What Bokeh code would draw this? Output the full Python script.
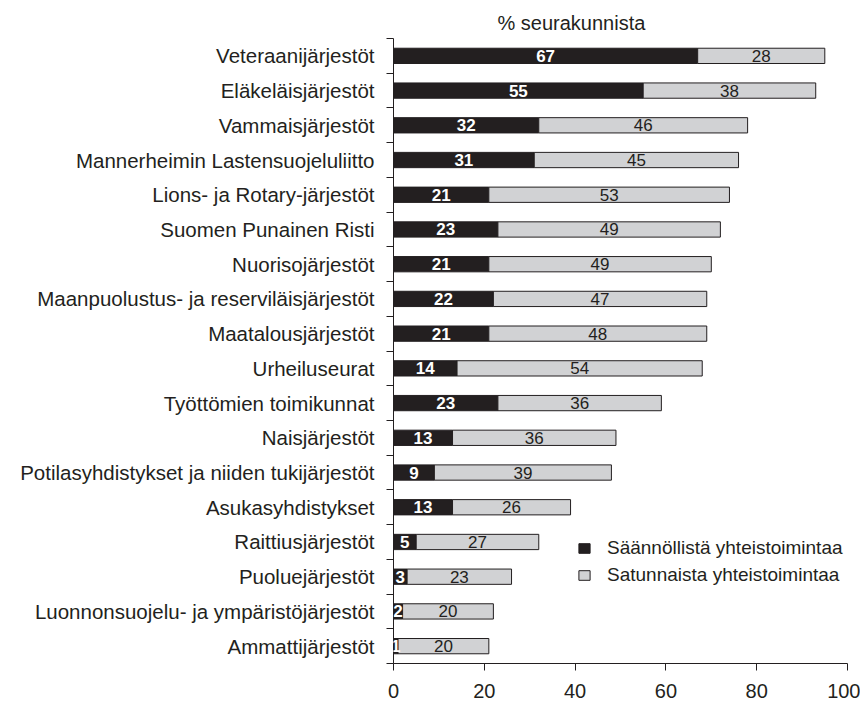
from bokeh.plotting import figure
from bokeh.models import ColumnDataSource, FixedTicker, Legend, LegendItem, LabelSet, Range1d, Title
from bokeh.core.properties import value
from bokeh.embed import file_html
from bokeh.resources import INLINE

categories = [
    "Veteraanijärjestöt", "Eläkeläisjärjestöt", "Vammaisjärjestöt",
    "Mannerheimin Lastensuojeluliitto", "Lions- ja Rotary-järjestöt",
    "Suomen Punainen Risti", "Nuorisojärjestöt",
    "Maanpuolustus- ja reserviläisjärjestöt", "Maatalousjärjestöt",
    "Urheiluseurat", "Työttömien toimikunnat", "Naisjärjestöt",
    "Potilasyhdistykset ja niiden tukijärjestöt", "Asukasyhdistykset",
    "Raittiusjärjestöt", "Puoluejärjestöt",
    "Luonnonsuojelu- ja ympäristöjärjestöt", "Ammattijärjestöt",
]
regular = [67, 55, 32, 31, 21, 23, 21, 22, 21, 14, 23, 13, 9, 13, 5, 3, 2, 1]
occasional = [28, 38, 46, 45, 53, 49, 49, 47, 48, 54, 36, 36, 39, 26, 27, 23, 20, 20]
x_ticks = [0, 20, 40, 60, 80, 100]
series_names = ["Säännöllistä yhteistoimintaa", "Satunnaista yhteistoimintaa"]
title_text = "% seurakunnista"

DARK = "#231f20"
LIGHT = "#d1d2d4"
FONT = "Liberation Sans"

n = len(categories)
ys = [n - i - 0.5 for i in range(n)]
src = ColumnDataSource(dict(
    y=ys,
    reg=regular,
    occ=occasional,
    total=[a + b for a, b in zip(regular, occasional)],
    reg_mid=[a / 2 for a in regular],
    occ_mid=[a + b / 2 for a, b in zip(regular, occasional)],
    reg_lbl=[str(v) for v in regular],
    occ_lbl=[str(v) for v in occasional],
))

p = figure(width=860, height=701, output_backend="svg", toolbar_location=None,
           x_range=Range1d(0, 100), y_range=Range1d(0, n),
           min_border_left=393, min_border_right=13, min_border_top=38,
           min_border_bottom=38)
p.outline_line_color = None
p.grid.visible = False
p.background_fill_color = "white"

h = 0.44
r1 = p.hbar(y="y", left=0, right="reg", height=h, source=src,
            fill_color=DARK, line_color=DARK, line_width=1)
r2 = p.hbar(y="y", left="reg", right="total", height=h, source=src,
            fill_color=LIGHT, line_color=DARK, line_width=1)

p.add_layout(LabelSet(x="reg_mid", y="y", text="reg_lbl", source=src,
                      text_align="center", text_baseline="middle",
                      text_color="white", text_font=value(FONT),
                      text_font_style="bold", text_font_size="17px"))
p.add_layout(LabelSet(x="occ_mid", y="y", text="occ_lbl", source=src,
                      text_align="center", text_baseline="middle",
                      text_color=DARK, text_font=value(FONT),
                      text_font_size="17px"))

# x axis
xa = p.xaxis[0]
xa.ticker = FixedTicker(ticks=x_ticks, minor_ticks=[])
xa.axis_line_color = DARK
xa.major_tick_line_color = DARK
xa.major_tick_out = 7
xa.major_tick_in = 0
xa.major_label_text_font = FONT
xa.major_label_text_font_size = "20px"
xa.major_label_text_color = DARK
xa.major_label_standoff = 13

# y axis: labels at category centres, tick marks between categories
ya = p.yaxis[0]
ya.ticker = FixedTicker(ticks=ys, minor_ticks=list(range(n + 1)))
ya.major_label_overrides = {y: c for y, c in zip(ys, categories)}
ya.major_tick_line_color = None
ya.minor_tick_line_color = DARK
ya.minor_tick_out = 7
ya.minor_tick_in = 0
ya.axis_line_color = DARK
ya.major_label_text_font = FONT
ya.major_label_text_font_size = "20.5px"
ya.major_label_text_color = DARK
ya.major_label_standoff = 12

p.title = Title(text=title_text, align="left", offset=104,
                text_font=FONT, text_font_size="20px",
                text_font_style="normal", text_color=DARK)

legend = Legend(items=[LegendItem(label=series_names[0], renderers=[r1]),
                       LegendItem(label=series_names[1], renderers=[r2])],
                location=(184, 77), orientation="vertical",
                label_text_font=FONT, label_text_font_size="19px",
                label_text_color=DARK, glyph_width=14, glyph_height=12,
                label_height=20, spacing=5, label_standoff=16,
                background_fill_alpha=0, border_line_color=None,
                padding=0, margin=0)
p.add_layout(legend, "center")

open("out.html", "w").write(file_html(p, INLINE))
